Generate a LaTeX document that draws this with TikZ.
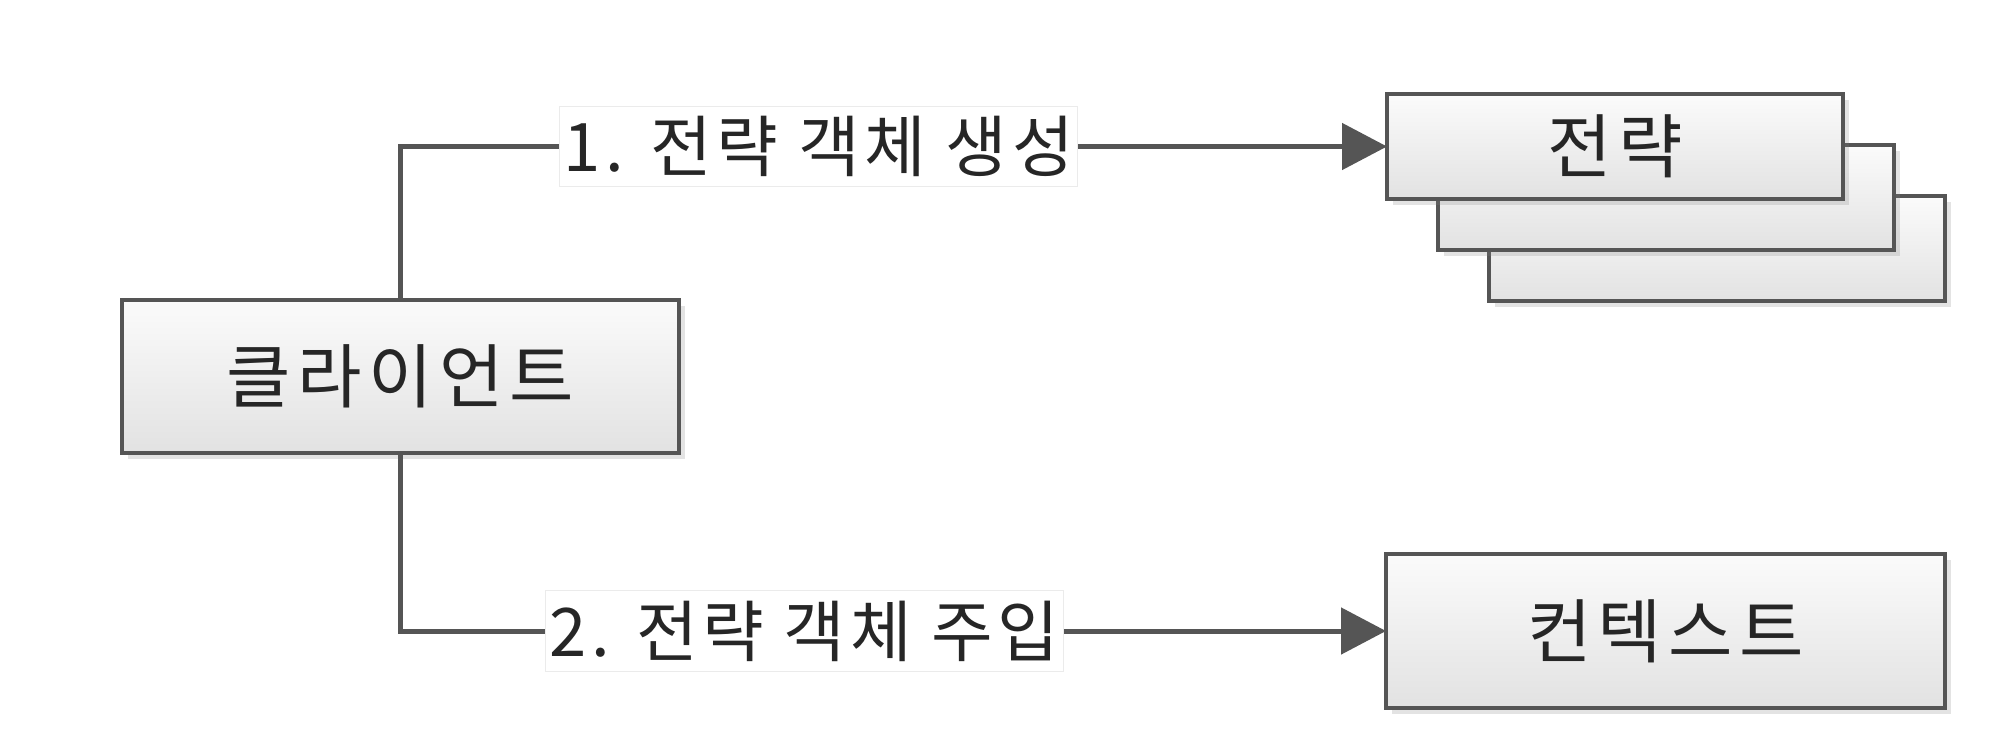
\documentclass[tikz,border=0pt]{standalone}
\usepackage{fontspec}
\setmainfont{Noto Sans CJK KR}
\newfontfamily\boxfont[LetterSpace=9]{Noto Sans CJK KR}
\newfontfamily\lblfont[LetterSpace=7]{Noto Sans CJK KR}
\usetikzlibrary{shadows,arrows.meta}
\definecolor{edge}{HTML}{555555}
\definecolor{boxtop}{HTML}{FBFBFB}
\definecolor{boxbot}{HTML}{E2E2E2}
\tikzset{
  umlbox/.style={draw=edge, line width=4.5pt, top color=boxtop, bottom color=boxbot,
    inner sep=0pt, outer sep=0pt, text=black!85,
    drop shadow={opacity=0.22, shadow xshift=6pt, shadow yshift=-6pt},
    font=\boxfont\fontsize{70}{80}\selectfont},
  conn/.style={draw=edge, line width=5pt, -{Triangle[length=45pt,width=46pt]}},
  steplabel/.style={fill=white, draw=black!8, line width=1pt, inner xsep=4pt, inner ysep=10pt,
    text=black!85, font=\lblfont\fontsize{67}{74}\selectfont}
}
\begin{document}
\begin{tikzpicture}[x=1pt,y=-1pt]
\useasboundingbox (0,0) rectangle (2000,739);
\node[umlbox, minimum width=557pt, minimum height=153pt] (client) at (400.5,376.5) {클라이언트};
\node[umlbox, minimum width=456pt, minimum height=105pt] (s3) at (1717,248.5) {};
\node[umlbox, minimum width=456pt, minimum height=105pt] (s2) at (1666,197.5) {};
\node[umlbox, minimum width=456pt, minimum height=105pt] (s1) at (1615,146.5) {전략};
\node[umlbox, minimum width=559pt, minimum height=154pt] (ctx) at (1665.5,631) {컨텍스트};
\draw[conn] (client.north) |- (s1.west) node[steplabel, pos=0.712] (l1) {1. 전략 객체 생성};
\draw[conn] (client.south) |- (ctx.west) node[steplabel, pos=0.705] (l2) {2. 전략 객체 주입};
\end{tikzpicture}
\end{document}
